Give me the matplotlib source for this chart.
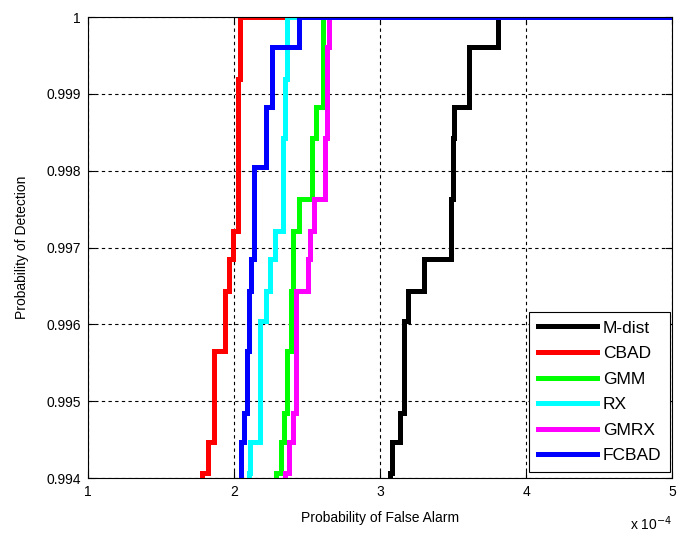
import matplotlib
matplotlib.use("Agg")
import matplotlib.pyplot as plt

plt.rcParams['font.family'] = ['Liberation Sans', 'DejaVu Sans']

# ROC step curves: false alarm rate (x 1e-4) where each vertical step sits,
# and the detection probability reached at the top of that step
mdist_pfa = [3.065, 3.08, 3.14, 3.165, 3.19, 3.30, 3.485, 3.50, 3.51, 3.61, 3.81]
mdist_pd = [0.99407, 0.99447, 0.99485, 0.99605, 0.99644, 0.99685, 0.99763, 0.99843, 0.99883, 0.99961, 1.0]

cbad_pfa = [1.783, 1.824, 1.86, 1.94, 1.968, 1.99, 2.025, 2.04]
cbad_pd = [0.99407, 0.99447, 0.99566, 0.99644, 0.99685, 0.99722, 0.99920, 1.0]

gmm_pfa = [2.285, 2.32, 2.345, 2.36, 2.39, 2.406, 2.447, 2.536, 2.56, 2.607]
gmm_pd = [0.99407, 0.99447, 0.99485, 0.99566, 0.99644, 0.99722, 0.99763, 0.99843, 0.99883, 1.0]

rx_pfa = [2.10, 2.11, 2.175, 2.22, 2.247, 2.28, 2.333, 2.349, 2.36]
rx_pd = [0.99407, 0.99447, 0.99605, 0.99644, 0.99685, 0.99722, 0.99843, 0.99920, 1.0]

gmrx_pfa = [2.35, 2.38, 2.406, 2.425, 2.51, 2.52, 2.548, 2.625, 2.635, 2.65]
gmrx_pd = [0.99407, 0.99447, 0.99485, 0.99644, 0.99685, 0.99722, 0.99763, 0.99843, 0.99961, 1.0]

fcbad_pfa = [2.046, 2.068, 2.087, 2.105, 2.116, 2.135, 2.22, 2.258, 2.447]
fcbad_pd = [0.99447, 0.99485, 0.99566, 0.99644, 0.99685, 0.99805, 0.99883, 0.99961, 1.0]

names = ['M-dist', 'CBAD', 'GMM', 'RX', 'GMRX', 'FCBAD']
colors = ['#000000', '#ff0000', '#00ff00', '#00ffff', '#ff00ff', '#0000ff']
series = [(mdist_pfa, mdist_pd), (cbad_pfa, cbad_pd), (gmm_pfa, gmm_pd),
          (rx_pfa, rx_pd), (gmrx_pfa, gmrx_pd), (fcbad_pfa, fcbad_pd)]

x_ticks = [1, 2, 3, 4, 5]
y_ticks = [0.994, 0.995, 0.996, 0.997, 0.998, 0.999, 1.0]
y_tick_labels = ['0.994', '0.995', '0.996', '0.997', '0.998', '0.999', '1']


def roc_path(pfa, pd, x_end=6.0, y_start=0.993):
    # vertical at each pfa up to its pd, then across to the next pfa
    xs, ys = [pfa[0]], [y_start]
    for i in range(len(pfa)):
        xs.append(pfa[i])
        ys.append(pd[i])
        nxt = pfa[i + 1] if i + 1 < len(pfa) else x_end
        xs.append(nxt)
        ys.append(pd[i])
    return xs, ys


fig = plt.figure(figsize=(6.78, 5.35), dpi=100)
ax = fig.add_axes([0.1298, 0.1065, 0.8614, 0.8615])

for (pfa, pd), name, c in zip(series, names, colors):
    xs, ys = roc_path(pfa, pd)
    ax.plot(xs, ys, color=c, linewidth=3.6, label=name, solid_joinstyle='miter')

ax.set_xlim(1, 5)
ax.set_ylim(0.994, 1.0)
ax.set_xticks(x_ticks)
ax.set_xticklabels([str(t) for t in x_ticks])
ax.set_yticks(y_ticks)
ax.set_yticklabels(y_tick_labels)
ax.tick_params(direction='in', length=5, width=0.8, top=True, right=True,
               labelsize=10, colors='#000000', pad=5)
for s in ax.spines.values():
    s.set_linewidth(0.8)

ax.grid(True, color='#000000', linestyle=(0, (3, 3)), linewidth=0.8)
ax.set_axisbelow(True)

ax.set_xlabel('Probability of False Alarm', fontsize=10, labelpad=9)
ax.set_ylabel('Probability of Detection', fontsize=10, labelpad=13)
ax.text(1.0, -0.078, r'x 10$^{-4}$', transform=ax.transAxes, ha='right',
        va='top', fontsize=10)

leg = ax.legend(loc='lower right', bbox_to_anchor=(0.997, 0.013),
                fontsize=12.5, handlelength=3.4, labelspacing=0.6,
                borderaxespad=0.0, fancybox=False, framealpha=1,
                edgecolor='#000000', handletextpad=0.35, borderpad=0.5)
leg.get_frame().set_linewidth(0.8)

fig.savefig('out.png', dpi=100)
